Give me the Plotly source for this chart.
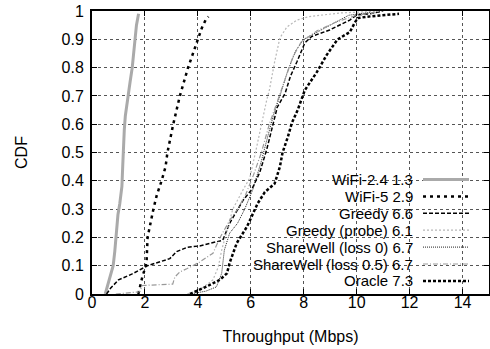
import plotly.graph_objects as go

# ---------------- data ----------------
names = ["WiFi-2.4 1.3", "WiFi-5 2.9", "Greedy 6.6", "Greedy (probe) 6.1",
         "ShareWell (loss 0) 6.7", "ShareWell (loss 0.5) 6.7", "Oracle 7.3"]

wifi24_x = [0.5, 0.56, 0.66, 0.72, 0.8, 0.86, 0.9, 0.95, 0.98, 1.05, 1.13, 1.16, 1.18,
            1.22, 1.26, 1.3, 1.36, 1.44, 1.52, 1.58, 1.62, 1.68, 1.76]
wifi24_y = [0, 0.02, 0.05, 0.07, 0.1, 0.15, 0.2, 0.25, 0.28, 0.32, 0.38, 0.45, 0.52,
            0.58, 0.63, 0.66, 0.7, 0.75, 0.8, 0.86, 0.9, 0.95, 0.99]

wifi5_x = [1.75, 1.82, 1.9, 2.0, 2.06, 2.1, 2.2, 2.32, 2.45, 2.63, 2.78, 2.85, 3.07,
           3.32, 3.63, 4.0, 4.15, 4.3, 4.4]
wifi5_y = [0, 0.03, 0.06, 0.09, 0.11, 0.2, 0.25, 0.3, 0.35, 0.4, 0.45, 0.5, 0.6,
           0.7, 0.8, 0.9, 0.94, 0.97, 0.98]

greedy_x = [0.55, 0.7, 1.0, 1.5, 2.1, 2.6, 2.94, 3.2, 3.6, 4.07, 4.5, 4.94, 5.2, 5.5,
            5.7, 6.04, 6.34, 6.6, 6.8, 7.0, 7.3, 7.5, 7.74, 8.04, 8.3, 8.98, 9.74,
            10.0, 10.5, 11.0]
greedy_y = [0, 0.02, 0.05, 0.07, 0.1, 0.115, 0.125, 0.15, 0.165, 0.17, 0.18, 0.19,
            0.25, 0.3, 0.33, 0.37, 0.43, 0.51, 0.59, 0.66, 0.71, 0.77, 0.82, 0.887,
            0.91, 0.933, 0.968, 0.986, 0.99, 1.0]

probe_x = [3.6, 4.07, 4.57, 4.77, 4.9, 5.1, 5.32, 5.66, 5.96, 6.2, 6.4, 6.6, 6.7,
           6.9, 7.1, 7.36, 7.74, 8.2, 9.36, 10.0, 11.0]
probe_y = [0, 0.014, 0.05, 0.095, 0.155, 0.226, 0.3, 0.36, 0.41, 0.51, 0.6, 0.685,
           0.72, 0.82, 0.905, 0.943, 0.968, 0.98, 0.993, 0.995, 1.0]

sw0_x = [3.7, 4.3, 4.7, 4.9, 5.0, 5.2, 5.5, 5.77, 6.08, 6.4, 6.65, 6.85, 7.1, 7.4,
         7.7, 8.0, 8.5, 9.0, 9.7, 10.5]
sw0_y = [0, 0.01, 0.025, 0.073, 0.155, 0.215, 0.25, 0.3, 0.37, 0.47, 0.56, 0.63,
         0.7, 0.79, 0.86, 0.9, 0.925, 0.95, 0.985, 0.995]

sw05_x = [0.9, 1.4, 1.8, 1.9, 2.5, 3.05, 3.13, 3.32, 3.6, 4.07, 4.57, 4.83, 5.2,
          5.5, 5.8, 6.1, 6.4, 6.7, 7.0, 7.4, 7.6, 7.9, 8.5, 9.2, 10.0, 10.8]
sw05_y = [0, 0.003, 0.008, 0.03, 0.032, 0.035, 0.06, 0.078, 0.09, 0.113, 0.144,
          0.198, 0.26, 0.3, 0.35, 0.42, 0.5, 0.6, 0.68, 0.79, 0.84, 0.89, 0.93,
          0.96, 0.985, 0.995]

oracle_x = [3.7, 4.3, 4.83, 5.1, 5.2, 5.47, 5.85, 6.26, 6.53, 6.9, 7.1, 7.2, 7.4,
            7.55, 7.77, 8.04, 8.5, 8.87, 9.28, 9.74, 9.92, 10.04, 10.4, 11.0, 11.6]
oracle_y = [0, 0.025, 0.05, 0.073, 0.11, 0.18, 0.237, 0.32, 0.36, 0.39, 0.45, 0.5,
            0.555, 0.604, 0.65, 0.72, 0.785, 0.845, 0.9, 0.925, 0.957, 0.975, 0.98,
            0.985, 0.99]

x_ticks = [0, 2, 4, 6, 8, 10, 12, 14]
y_ticks = [0, 0.1, 0.2, 0.3, 0.4, 0.5, 0.6, 0.7, 0.8, 0.9, 1]
y_tick_text = ["0", "0.1", "0.2", "0.3", "0.4", "0.5", "0.6", "0.7", "0.8", "0.9", "1"]

series_x = [wifi24_x, wifi5_x, greedy_x, probe_x, sw0_x, sw05_x, oracle_x]
series_y = [wifi24_y, wifi5_y, greedy_y, probe_y, sw0_y, sw05_y, oracle_y]

# ---------------- styles ----------------
styles = [
    dict(color="#aaaaaa", width=3, dash="solid"),
    dict(color="#000000", width=2.5, dash="3px,4px"),
    dict(color="#000000", width=1.5, dash="4px,2px"),
    dict(color="#b8b8b8", width=1.2, dash="2px,2px"),
    dict(color="#222222", width=1, dash="1px,1px"),
    dict(color="#999999", width=1.2, dash="5px,2px,1px,2px"),
    dict(color="#000000", width=2.5, dash="3px,2px"),
]

FONT = "Liberation Sans, Arial, sans-serif"

fig = go.Figure()
for nm, xs, ys, st in zip(names, series_x, series_y, styles):
    fig.add_trace(go.Scatter(x=xs, y=ys, mode="lines", name=nm, line=st,
                             showlegend=False))

# plot area geometry in pixels (for the hand-made gnuplot-style key)
W, H = 490, 349
L, R, T, B = 92, 1, 11, 55
pw, ph = W - L - R, H - T - B

def px_x(p):
    return (p - L) / pw

def px_y(p):
    return (H - B - p) / ph

shapes = []
# white key box that hides the grid (drawn between grid and traces)
shapes.append(dict(type="rect", xref="paper", yref="paper",
                   x0=px_x(167), x1=px_x(473), y0=px_y(293), y1=px_y(171),
                   fillcolor="white", line=dict(width=0), layer="between"))

annotations = []
row0, step = 179.5, 16.9
for i, (nm, st) in enumerate(zip(names, styles)):
    yy = row0 + i * step
    shapes.append(dict(type="line", xref="paper", yref="paper",
                       x0=px_x(423), x1=px_x(469), y0=px_y(yy), y1=px_y(yy),
                       line=st, layer="above"))
    annotations.append(dict(text=nm, xref="paper", yref="paper",
                            x=px_x(414), y=px_y(yy), xanchor="right",
                            yanchor="middle", showarrow=False, borderpad=0,
                            font=dict(family=FONT, size=15, color="black")))

axis_common = dict(
    showline=True, linecolor="black", linewidth=2, mirror="ticks",
    ticks="inside", ticklen=5, tickcolor="black", tickwidth=1,
    showgrid=True, gridcolor="#555555", gridwidth=1, griddash="dot",
    zeroline=False, automargin=False,
    tickfont=dict(family=FONT, size=16, color="black"),
)

fig.update_layout(
    width=W, height=H,
    margin=dict(l=L, r=R, t=T, b=B, pad=0, autoexpand=False),
    paper_bgcolor="white", plot_bgcolor="white",
    font=dict(family=FONT, size=16, color="black"),
    shapes=shapes, annotations=annotations,
    xaxis=dict(range=[0, 15], tickvals=x_ticks, ticklabelstandoff=-7,
               **axis_common,
               title=dict(text="Throughput (Mbps)", standoff=21,
                          font=dict(family=FONT, size=16))),
    yaxis=dict(range=[0, 1], tickvals=y_ticks, ticktext=y_tick_text,
               ticklabelstandoff=3, **axis_common,
               title=dict(text="CDF", standoff=30,
                          font=dict(family=FONT, size=16))),
)

fig.write_html("out.html", config={"displayModeBar": False},
               post_script="document.body.style.margin='0';"
                           "document.body.style.padding='0';")
